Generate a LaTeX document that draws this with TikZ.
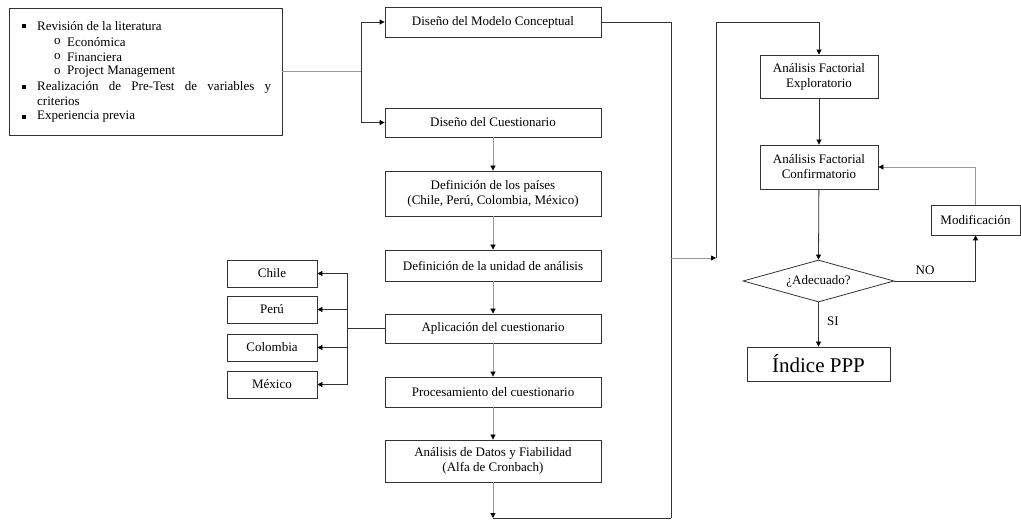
\documentclass[tikz,border=0pt]{standalone}
\usepackage{fontspec}
\setmainfont{Liberation Serif}
\usetikzlibrary{arrows.meta,shapes.geometric}
\begin{document}
\begin{tikzpicture}[x=1pt,y=-1pt,
  box/.style={draw=black!80, line width=0.8pt, inner sep=0pt, align=center, font=\fontsize{13}{15}\selectfont},
  cbox/.style={box, minimum width=216pt},
  ln/.style={line width=0.8pt, draw=black!80},
  gln/.style={line width=0.8pt, draw=black!40},
  arr/.style={-{Triangle[length=5pt,width=5pt,color=black]}},
  txt/.style={anchor=west, inner sep=0pt, font=\fontsize{13}{15}\selectfont},
  lbl/.style={inner sep=0pt, font=\fontsize{13}{15}\selectfont},
]
\useasboundingbox (0,0) rectangle (1021,521);

% left box
\node[box, minimum width=273pt, minimum height=127pt] (lit) at (145.5,71.5) {};
\node[txt] (b1) at (22,26) {\rule{4pt}{4pt}};
\node[txt] (t1) at (37,26) {Revisión de la literatura};
\node[txt] (s1) at (54,42) {o};
\node[txt] (t2) at (67,42) {Económica};
\node[txt] (s2) at (54,57) {o};
\node[txt] (t3) at (67,57) {Financiera};
\node[txt] (s3) at (54,72) {o};
\node[txt] (t4) at (67,72) {Project Management};
\node[txt] (b2) at (22,87) {\rule{4pt}{4pt}};
\node[txt] (t5) at (37,87) {\makebox[234pt][s]{Realización de Pre-Test de variables y}};
\node[txt] (t6) at (37,101) {criterios};
\node[txt] (b3) at (22,117) {\rule{4pt}{4pt}};
\node[txt] (t7) at (37,117) {Experiencia previa};

% central column
\node[cbox, minimum height=30pt] (mc) at (493,22) {Diseño del Modelo Conceptual};
\node[cbox, minimum height=29pt] (cu) at (493,122.5) {Diseño del Cuestionario};
\node[cbox, minimum height=45pt] (pa) at (493,193.5) {Definición de los países\\(Chile, Perú, Colombia, México)};
\node[cbox, minimum height=31pt] (un) at (493,265.5) {Definición de la unidad de análisis};
\node[cbox, minimum height=29pt] (ap) at (493,328.5) {Aplicación del cuestionario};
\node[cbox, minimum height=30pt] (pr) at (493,392) {Procesamiento del cuestionario};
\node[cbox, minimum height=42pt] (ad) at (493,461) {Análisis de Datos y Fiabilidad\\(Alfa de Cronbach)};

% countries
\node[box, minimum width=90pt, minimum height=27pt] (ch) at (272,273.5) {Chile};
\node[box, minimum width=90pt, minimum height=27pt] (pe) at (272,309.5) {Perú};
\node[box, minimum width=90pt, minimum height=27pt] (co) at (272,347.5) {Colombia};
\node[box, minimum width=90pt, minimum height=27pt] (me) at (272,384.5) {México};

% right column
\node[box, minimum width=118pt, minimum height=43pt] (afe) at (819,76.5) {Análisis Factorial\\Exploratorio};
\node[box, minimum width=118pt, minimum height=44pt] (afc) at (819,167) {Análisis Factorial\\Confirmatorio};
\node[box, minimum width=89pt, minimum height=30pt] (mod) at (975.5,220) {Modificación};
\node[box, diamond, aspect=3.6, minimum width=151pt, minimum height=42pt] (dec) at (818.5,281) {¿Adecuado?};
\node[box, minimum width=143pt, minimum height=34pt, font=\fontsize{21}{24}\selectfont] (ind) at (818.5,364) {Índice PPP};
\node[lbl] (no) at (925,270) {NO};
\node[lbl] (si) at (833,321) {SI};

% coordinates
\coordinate (j1) at (361,71.5);
\coordinate (cj) at (347,328.5);
\coordinate (bot) at (493,518);
\coordinate (br) at (671,518);
\coordinate (jr) at (671,258);
\coordinate (ja) at (716,258);
\coordinate (jt) at (716,22);

% connectors
\draw[gln] (lit.east) -- (j1);
\draw[ln,arr] (j1) |- (mc.west);
\draw[ln,arr] (j1) |- (cu.west);
\draw[gln,arr] (cu) -- (pa);
\draw[gln,arr] (pa) -- (un);
\draw[gln,arr] (un) -- (ap);
\draw[gln,arr] (ap) -- (pr);
\draw[gln,arr] (pr) -- (ad);
\draw[gln,arr] (ad.south) -- (bot);
\draw[ln] (bot) -- (br);
\draw[ln] (mc.east) -| (br);
\draw[gln,arr] (jr) -- (ja);
\draw[ln] (ja) -- (jt);
\draw[ln,arr] (jt) -| (afe.north);
\draw[ln] (ap.west) -- (cj);
\draw[ln,arr] (cj) |- (ch.east);
\draw[ln,arr] (cj) |- (pe.east);
\draw[ln,arr] (cj) |- (co.east);
\draw[ln,arr] (cj) |- (me.east);
\draw[ln,arr] (afe) -- (afc);
\draw[ln,arr] (afc) -- (dec.north);
\draw[ln,arr] (dec.south) -- (ind);
\draw[ln,arr] (dec.east) -| (mod.south);
\draw[gln,arr] (mod.north) |- (afc.east);
\end{tikzpicture}
\end{document}
